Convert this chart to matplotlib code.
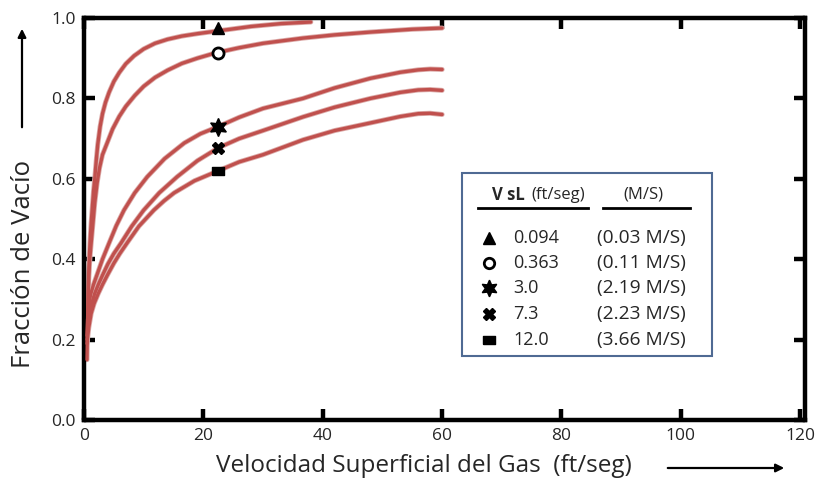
import matplotlib
matplotlib.use("Agg")
import matplotlib.pyplot as plt
from matplotlib.patches import Rectangle, FancyArrowPatch

plt.rcParams["font.family"] = ["Open Sans", "DejaVu Sans"]

# curvas (velocidad del gas en ft/seg, fracción de vacío)
x_0094 = [0.5, 0.55, 0.6, 0.7, 0.85, 1.0, 1.2, 1.4, 1.6, 1.8, 2.05, 2.3, 2.7, 3.1, 3.6,
          4.2, 5.0, 5.9, 7.0, 8.4, 10, 11.9, 14, 16.4, 19, 22, 25, 28, 33, 38]
y_0094 = [0.15, 0.2, 0.25, 0.32, 0.39, 0.44, 0.49, 0.53, 0.57, 0.60, 0.645, 0.685, 0.73,
          0.762, 0.79, 0.815, 0.842, 0.864, 0.886, 0.906, 0.923, 0.937, 0.947, 0.955,
          0.961, 0.967, 0.973, 0.979, 0.986, 0.99]

x_0363 = [0.6, 0.7, 0.8, 1.0, 1.2, 1.5, 1.8, 2.2, 2.6, 3.1, 3.9, 4.8, 5.9, 7.0, 8.5, 10,
          11.9, 14, 16.4, 19, 22, 26, 30, 36.7, 42, 48, 55, 60]
y_0363 = [0.22, 0.30, 0.36, 0.405, 0.44, 0.49, 0.54, 0.59, 0.627, 0.66, 0.69, 0.724,
          0.755, 0.78, 0.807, 0.83, 0.852, 0.87, 0.887, 0.90, 0.913, 0.926, 0.937, 0.95,
          0.958, 0.965, 0.972, 0.975]

x_30 = [0.5, 0.6, 0.8, 1.1, 1.6, 2.2, 3.1, 4.2, 5.4, 6.7, 8.5, 10.6, 13.5, 16.8, 19.5,
        22.5, 26, 30, 36.7, 42, 48, 53, 56, 58, 60]
y_30 = [0.21, 0.25, 0.285, 0.312, 0.337, 0.362, 0.40, 0.44, 0.483, 0.522, 0.565, 0.605,
        0.65, 0.689, 0.712, 0.73, 0.753, 0.775, 0.80, 0.826, 0.85, 0.865, 0.871, 0.873,
        0.872]

x_73 = [0.5, 0.7, 1.0, 1.3, 1.8, 2.4, 3.1, 4.0, 5.0, 6.2, 8.0, 10.0, 12.6, 15.6, 19,
        22.5, 26, 30, 36.7, 42, 48, 53, 56, 58, 60]
y_73 = [0.20, 0.24, 0.27, 0.29, 0.315, 0.337, 0.36, 0.388, 0.414, 0.44, 0.482, 0.522,
        0.565, 0.605, 0.645, 0.677, 0.70, 0.72, 0.754, 0.778, 0.80, 0.815, 0.821, 0.822,
        0.82]

x_120 = [0.5, 0.8, 1.2, 1.7, 2.4, 3.1, 3.9, 5.0, 6.0, 7.2, 9.2, 11.7, 13.4, 15.1, 18.5,
         22.5, 26, 30, 36.7, 42, 48, 53, 56, 58, 60]
y_120 = [0.19, 0.23, 0.265, 0.29, 0.315, 0.337, 0.36, 0.39, 0.414, 0.44, 0.482, 0.522,
         0.545, 0.565, 0.595, 0.62, 0.642, 0.66, 0.697, 0.72, 0.739, 0.755, 0.762, 0.763,
         0.76]

# puntos marcados en cada curva
punto_x = [22.5, 22.5, 22.5, 22.5, 22.5]
punto_y = [0.975, 0.913, 0.73, 0.677, 0.62]

# leyenda
vsl_ft = ["0.094", "0.363", "3.0", "7.3", "12.0"]
vsl_ms = ["(0.03 M/S)", "(0.11 M/S)", "(2.19 M/S)", "(2.23 M/S)", "(3.66 M/S)"]

x_ticks = [0, 20, 40, 60, 80, 100, 120]
y_ticks = [0.0, 0.2, 0.4, 0.6, 0.8, 1.0]

ROJO = "#C0504D"
TEXTO = "#262626"
rect_marker = [(-1, -0.6), (1, -0.6), (1, 0.6), (-1, 0.6), (-1, -0.6)]
marcadores = [
    dict(marker="^", ms=8, mfc="black", mec="black"),
    dict(marker="o", ms=8, mfc="white", mec="black", mew=2),
    dict(marker=(6, 1, 0), ms=13, mfc="black", mec="black"),
    dict(marker="X", ms=9, mfc="black", mec="black"),
    dict(marker=rect_marker, ms=9, mfc="black", mec="black"),
]

fig = plt.figure(figsize=(8.17, 4.8), dpi=100)
ax = fig.add_axes([84 / 817, 1 - 420 / 480, (805 - 84) / 817, (420 - 18) / 480])

curvas = [(x_0094, y_0094), (x_0363, y_0363), (x_30, y_30), (x_73, y_73), (x_120, y_120)]
for xs, ys in curvas:
    ax.plot(xs, ys, color="#dcaaa8", lw=3.6, solid_capstyle="round",
            solid_joinstyle="round", zorder=2)
    ax.plot(xs, ys, color=ROJO, lw=2.4, solid_capstyle="round",
            solid_joinstyle="round", zorder=3)

for px, py, st in zip(punto_x, punto_y, marcadores):
    ax.plot([px], [py], ls="none", zorder=5, **st)

ax.set_xlim(0, 120.8)
ax.set_ylim(0, 0.99)
ax.set_xticks(x_ticks)
ax.set_yticks(y_ticks)
ax.set_xticklabels([str(t) for t in x_ticks])
ax.set_yticklabels([f"{t:.1f}" for t in y_ticks])
ax.tick_params(direction="in", length=8, width=3.2, top=True, right=True,
               labelsize=12.5, labelcolor=TEXTO, pad=6)
for sp in ax.spines.values():
    sp.set_linewidth(3.2)

# caja de leyenda
ax.add_patch(Rectangle((63.3, 0.159), 41.9, 0.455, fill=True, facecolor="white",
                       edgecolor="#4F6A93", lw=1.5, zorder=6))
ax.text(68.3, 0.56, "V sL", fontsize=12, fontweight="bold", color=TEXTO,
        va="center", zorder=7)
ax.text(74.9, 0.56, "(ft/seg)", fontsize=12, color=TEXTO, va="center", zorder=7)
ax.text(93.8, 0.56, "(M/S)", fontsize=12, color=TEXTO, va="center", ha="center", zorder=7)
ax.plot([66.0, 84.4], [0.527, 0.527], color="black", lw=2, zorder=7)
ax.plot([86.9, 101.5], [0.527, 0.527], color="black", lw=2, zorder=7)

filas_y = [0.453, 0.391, 0.328, 0.264, 0.199]
tam_leyenda = [8, 7.5, 12, 9, 9]
for fy, ft, ms, st, tm in zip(filas_y, vsl_ft, vsl_ms, marcadores, tam_leyenda):
    est = dict(st)
    est["ms"] = tm
    ax.plot([67.8], [fy], ls="none", zorder=8, **est)
    ax.text(71.9, fy, ft, fontsize=13, color=TEXTO, va="center", zorder=8)
    ax.text(85.9, fy, ms, fontsize=13.8, color=TEXTO, va="center", zorder=8)

fig.text(424 / 817, 1 - 466 / 480, "Velocidad Superficial del Gas  (ft/seg)",
         fontsize=17.5, color=TEXTO, ha="center", va="center")
fig.text(24 / 817, 1 - 264 / 480, "Fracción de Vacío", fontsize=18.5, color=TEXTO,
         rotation=90, ha="center", va="center")

fig.add_artist(FancyArrowPatch((665 / 817, 1 - 468 / 480), (787 / 817, 1 - 468 / 480),
                               transform=fig.transFigure, arrowstyle="-|>",
                               mutation_scale=12, lw=1.6, color="black"))
fig.add_artist(FancyArrowPatch((22 / 817, 1 - 130 / 480), (22 / 817, 1 - 26 / 480),
                               transform=fig.transFigure, arrowstyle="-|>",
                               mutation_scale=12, lw=1.6, color="black"))

fig.savefig("out.png", dpi=100)
